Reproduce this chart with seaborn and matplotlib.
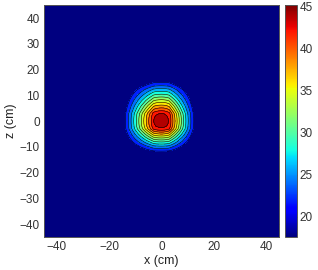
import numpy as np
import seaborn as sns
import matplotlib
matplotlib.use("Agg")
import matplotlib.pyplot as plt
from matplotlib.colors import Normalize
from matplotlib.cm import ScalarMappable

# temperature profile read along the x axis and the z axis (relative heat, 0..1)
x_cm = [-45, -30, -24, -20, -18, -16, -14, -12, -10, -8, -6, -5, -4, -3, -2, -1,
        0, 1, 2, 3, 4, 5, 6, 8, 10, 12, 14, 16, 18, 20, 24, 30, 45]
heat_x = [0, 0, 0.002, 0.015, 0.032, 0.068, 0.145, 0.275, 0.42, 0.57, 0.725, 0.80, 0.875, 0.955, 0.982, 0.995,
          1, 0.995, 0.978, 0.947, 0.85, 0.76, 0.668, 0.49, 0.325, 0.18, 0.08, 0.033, 0.013, 0.005, 0, 0, 0]
z_cm = [-45, -30, -24, -20, -18, -16, -14, -12, -10, -8, -6, -5, -4, -3, -2, -1,
        0, 1, 2, 3, 4, 5, 6, 8, 10, 12, 14, 16, 18, 20, 24, 30, 45]
heat_z = [0, 0, 0, 0.002, 0.008, 0.023, 0.057, 0.135, 0.28, 0.458, 0.646, 0.742, 0.838, 0.94, 0.976, 0.995,
          1, 0.996, 0.982, 0.957, 0.885, 0.82, 0.755, 0.615, 0.478, 0.348, 0.212, 0.11, 0.054, 0.024, 0.005, 0, 0]

t_min = 17.6   # background temperature
t_max = 45.2   # peak temperature
levels = [22, 24, 26, 28, 30, 32, 34, 36, 38, 40, 42, 44]
cbar_ticks = [20, 25, 30, 35, 40, 45]
axis_xticks = [-40, -20, 0, 20, 40]
axis_zticks = [-40, -30, -20, -10, 0, 10, 20, 30, 40]

T = t_min + (t_max - t_min) * np.outer(heat_z, heat_x)

sns.set_style("white")
plt.rcParams['font.family'] = ['Liberation Sans', 'DejaVu Sans']
cmap = matplotlib.colormaps['jet']
norm = Normalize(vmin=t_min, vmax=t_max)

fig = plt.figure(figsize=(3.18, 2.70), dpi=100)
ax = fig.add_axes([0.138, 0.122, 0.739, 0.859])
cax = fig.add_axes([0.896, 0.122, 0.038, 0.859])

# matlab style: each band takes the colour of its lower level
bounds = [t_min] + levels + [t_max]
band_colors = [cmap(norm(b)) for b in bounds[:-1]]
ax.contourf(x_cm, z_cm, T, levels=bounds, colors=band_colors)
ax.contour(x_cm, z_cm, T, levels=levels, colors='k', linewidths=0.4)

ax.set_xlim(-45, 45)
ax.set_ylim(-45, 45)
ax.set_xticks(axis_xticks)
ax.set_yticks(axis_zticks)
ax.tick_params(direction='in', length=2.5, width=0.6, labelsize=8.5, colors='#333333',
               top=True, right=True, pad=3)
ax.set_xlabel('x (cm)', fontsize=9, color='#222222', labelpad=1)
ax.set_ylabel('z (cm)', fontsize=9, color='#222222', labelpad=2)
for s in ax.spines.values():
    s.set_color('#555555')
    s.set_linewidth(0.7)

cb = fig.colorbar(ScalarMappable(norm=norm, cmap=cmap), cax=cax, ticks=cbar_ticks)
cax.tick_params(direction='in', length=2, width=0.6, labelsize=8.5, colors='#333333', pad=2)
cb.outline.set_edgecolor('#555555')
cb.outline.set_linewidth(0.7)

fig.savefig('out.png', dpi=100)
